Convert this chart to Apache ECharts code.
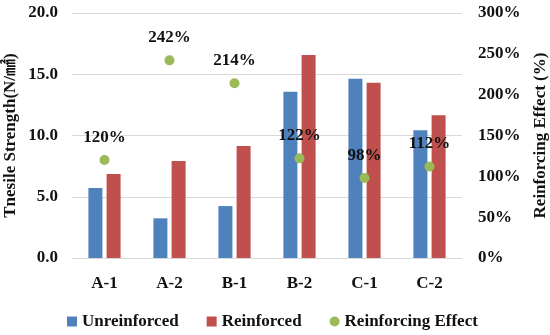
<!DOCTYPE html>
<html><head><meta charset="utf-8">
<script src="https://cdn.jsdelivr.net/npm/echarts@6/dist/echarts.min.js"></script>
<style>html,body{margin:0;padding:0;background:#fff}#c{width:550px;height:335px}</style>
</head><body><div id="c"></div>
<script>
const categories = ['A-1','A-2','B-1','B-2','C-1','C-2'];
const unreinforced = [5.71, 3.24, 4.24, 13.58, 14.64, 10.42];
const reinforced = [6.86, 7.92, 9.14, 16.57, 14.31, 11.65];
const effect = [1.20, 2.42, 2.14, 1.22, 0.98, 1.12];
const leftTicks = {min:0, max:20, interval:5};
const rightTicks = {min:0, max:3, interval:0.5};

const F = "'Liberation Serif', 'Noto Sans CJK JP', serif";
const TC = '#111';
const FS = 17;
const chart = echarts.init(document.getElementById('c'));
chart.setOption({
  animation:false,
  textStyle:{fontFamily:F},
  grid:{left:72, right:88, top:13, bottom:77, outerBoundsMode:'none', containLabel:false},
  legend:{
    bottom:0, left:62, itemGap:28, itemWidth:10, itemHeight:10,
    textStyle:{fontFamily:F, fontSize:FS, fontWeight:'bold', color:TC},
    data:[{name:'Unreinforced', icon:'rect'},{name:'Reinforced', icon:'rect'},{name:'Reinforcing Effect', icon:'circle'}]
  },
  xAxis:{type:'category', data:categories,
    axisLine:{lineStyle:{color:'#d9d9d9'}}, axisTick:{show:false},
    axisLabel:{fontFamily:F, fontSize:FS, fontWeight:'bold', color:TC, margin:17}},
  yAxis:[
    {type:'value', min:leftTicks.min, max:leftTicks.max, interval:leftTicks.interval,
     name:'Tnesile Strength(N/㎟)', nameLocation:'middle', nameGap:53, nameRotate:90, nameMoveOverlap:false,
     nameTextStyle:{fontFamily:F, fontSize:FS, fontWeight:'bold', color:TC},
     axisLabel:{fontFamily:F, fontSize:FS, fontWeight:'bold', color:TC, margin:14, formatter:v=>v.toFixed(1)},
     splitLine:{lineStyle:{color:'#d9d9d9'}}, axisLine:{show:false}, axisTick:{show:false}},
    {type:'value', min:rightTicks.min, max:rightTicks.max, interval:rightTicks.interval,
     name:'Reinforcing Effect (%)', nameLocation:'middle', nameGap:70, nameRotate:90, nameMoveOverlap:false,
     nameTextStyle:{fontFamily:F, fontSize:FS, fontWeight:'bold', color:TC},
     axisLabel:{fontFamily:F, fontSize:FS, fontWeight:'bold', color:TC, margin:16, formatter:v=>Math.round(v*100)+'%'},
     splitLine:{show:false}, axisLine:{show:false}, axisTick:{show:false}}
  ],
  series:[
    {name:'Unreinforced', type:'bar', data:unreinforced, barWidth:14, barGap:'30%', itemStyle:{color:'#4F81BD'}},
    {name:'Reinforced', type:'bar', data:reinforced, barWidth:14, barGap:'30%', itemStyle:{color:'#C0504D'}},
    {name:'Reinforcing Effect', type:'scatter', yAxisIndex:1, data:effect, symbolSize:10, z:5,
     itemStyle:{color:'#9BBB59', opacity:1},
     label:{show:true, position:'top', distance:9, fontFamily:F, fontSize:FS, fontWeight:'bold', color:TC, opacity:1,
       formatter:p=>Math.round(p.value*100)+'%'}}
  ]
});
</script></body></html>
